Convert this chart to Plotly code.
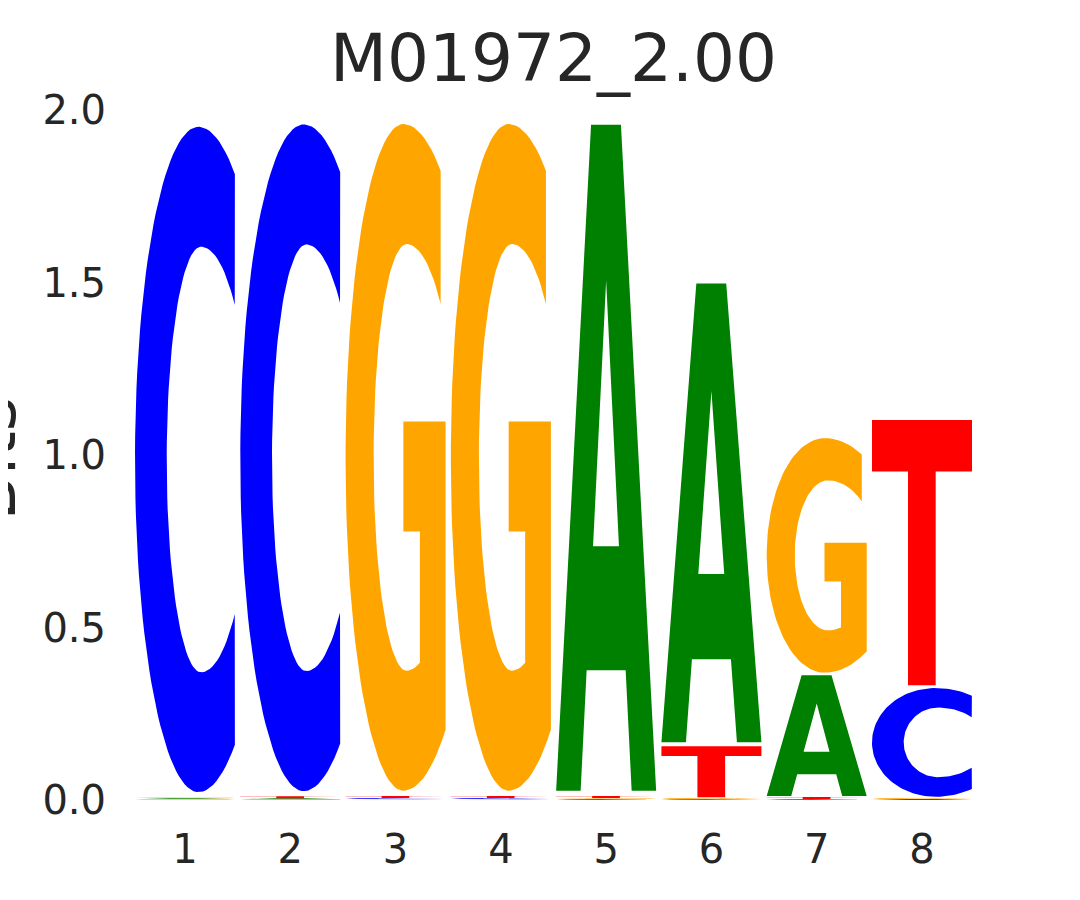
import numpy as np
import plotly.graph_objects as go

# ---------------- data (bits per letter at each position) ----------------
positions = [1, 2, 3, 4, 5, 6, 7, 8]
tick_labels = ["1", "2", "3", "4", "5", "6", "7", "8"]
A_bits = [0.003, 0.003, 0.002, 0.002, 1.960, 1.350, 0.355, 0.003]
C_bits = [1.958, 1.962, 0.004, 0.004, 0.003, 0.003, 0.003, 0.320]
G_bits = [0.003, 0.002, 1.962, 1.962, 0.003, 0.004, 0.690, 0.004]
T_bits = [0.002, 0.006, 0.006, 0.006, 0.006, 0.150, 0.006, 0.780]
y_ticks = [0.0, 0.5, 1.0, 1.5, 2.0]
y_tick_labels = ["0.0", "0.5", "1.0", "1.5", "2.0"]
title_text = "M01972_2.00"
y_title = "Bits"

# ---------------- style ----------------
colors = {"A": "#008000", "C": "#0000ff", "G": "#ffa500", "T": "#ff0000"}
LETTER_W = 0.95
VPAD = 0.015
TEXT = "#262626"


def arc(cx, cy, rxl, rxr, ry, th0, th1, n=90):
    th = np.radians(np.linspace(th0, th1, n))
    c, s = np.cos(th), np.sin(th)
    rx = np.where(c >= 0, rxr, rxl)
    return list(zip(cx + rx * c, cy + ry * s))


def glyph(letter):
    if letter == "T":
        return [(0, 1), (1, 1), (1, 0.806), (0.637, 0.806), (0.637, 0),
                (0.36, 0), (0.36, 0.806), (0, 0.806), (0, 1)]
    if letter == "A":
        return [(0, 0), (0.245, 0), (0.305, 0.181), (0.695, 0.181), (0.755, 0),
                (1, 0), (0.648, 1), (0.5, 1), (0.5, 0.766), (0.628, 0.367),
                (0.369, 0.367), (0.5, 0.766), (0.5, 1), (0.349, 1), (0, 0)]
    if letter == "C":
        pts = arc(0.633, 0.5, 0.633, 0.71, 0.5, 59, 301)
        pts += arc(0.66, 0.5, 0.343, 0.49, 0.32, 313.5, 46.5)
        pts.append(pts[0])
        return pts
    if letter == "G":
        pts = arc(0.578, 0.5, 0.578, 0.73, 0.5, 59.3, 305)
        pts += [(1.0, 0.09), (1.0, 0.554), (0.578, 0.554), (0.578, 0.389),
                (0.743, 0.389)]
        pts += arc(0.61, 0.5, 0.33, 0.49, 0.32, 285.75, 46)
        pts.append(pts[0])
        return pts


bits = {"A": A_bits, "C": C_bits, "G": G_bits, "T": T_bits}

fig = go.Figure()
for i, pos in enumerate(positions):
    stack = sorted(bits.keys(), key=lambda L: bits[L][i])
    base = 0.0
    for L in stack:
        h = bits[L][i]
        pad = VPAD / 2 * h
        pts = glyph(L)
        xs = [pos - LETTER_W / 2 + u * LETTER_W for u, v in pts]
        ys = [base + pad + v * (h - 2 * pad) for u, v in pts]
        fig.add_trace(go.Scatter(
            x=xs, y=ys, mode="lines", fill="toself",
            fillcolor=colors[L], line=dict(width=0, color=colors[L]),
            hoverinfo="skip", showlegend=False))
        base += h

fig.update_layout(
    width=1080, height=900,
    margin=dict(l=127, r=116, t=102, b=108),
    paper_bgcolor="white", plot_bgcolor="white",
    title=dict(text=title_text, x=0.5, xref="paper", xanchor="center",
               y=1 - 50 / 900, yref="container", yanchor="middle",
               font=dict(family="DejaVu Sans", size=66, color=TEXT)),
    font=dict(family="DejaVu Sans", color=TEXT),
)
fig.update_xaxes(range=[0.525, 8.475], tickvals=positions, ticktext=tick_labels,
                 showgrid=False, zeroline=False, showline=False, ticks="",
                 automargin=False, ticklabelstandoff=22,
                 tickfont=dict(family="DejaVu Sans", size=40, color=TEXT))
fig.update_yaxes(range=[0, 2.0], tickvals=y_ticks, ticktext=y_tick_labels,
                 showgrid=False, zeroline=False, showline=False, ticks="",
                 automargin=False, ticklabelstandoff=28,
                 tickfont=dict(family="DejaVu Sans", size=40, color=TEXT))
fig.add_annotation(text=y_title, textangle=-90, xref="paper", yref="paper",
                   x=(33 - 135) / 837, y=0.494, xanchor="right", yanchor="middle",
                   showarrow=False,
                   font=dict(family="DejaVu Sans", size=66, color=TEXT))

fig.write_html("out.html")
